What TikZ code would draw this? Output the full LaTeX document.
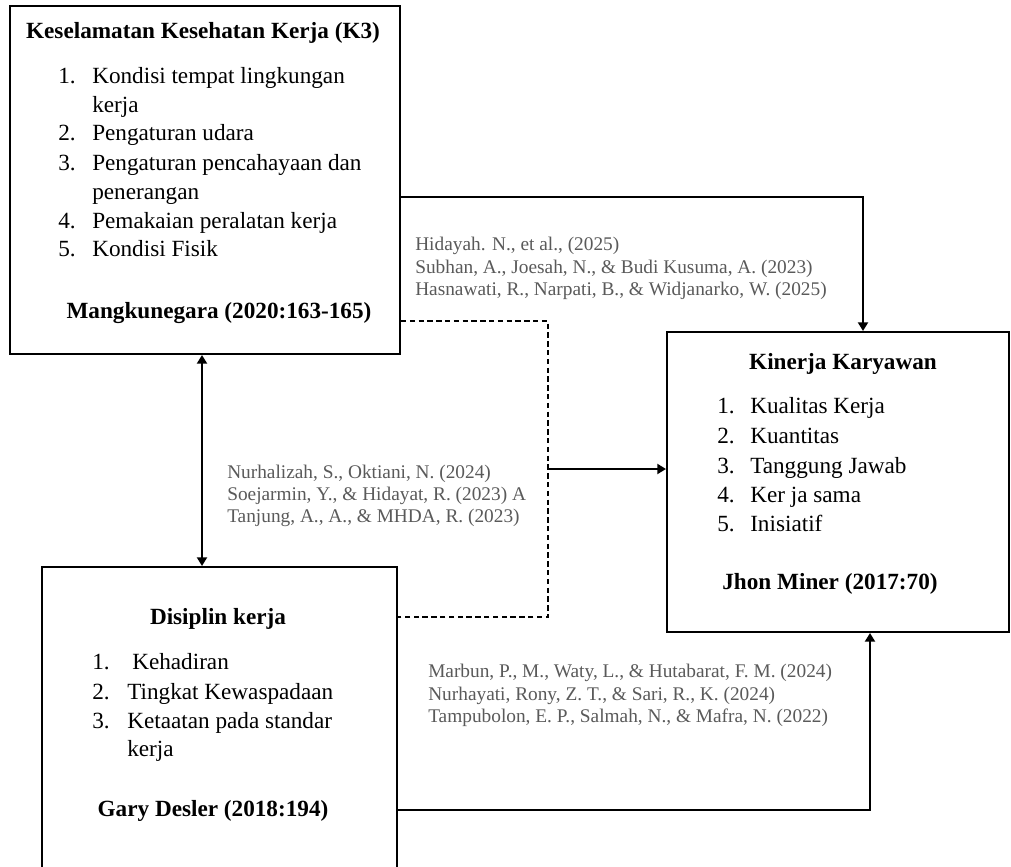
\documentclass[tikz,border=0pt]{standalone}
\usepackage{fontspec}
\setmainfont{Liberation Serif}
\usetikzlibrary{arrows.meta,fit}
\definecolor{citegray}{RGB}{90,90,90}
\newcommand\itm[3][25.5pt]{\makebox[#1][l]{#2}#3}
\begin{document}
\begin{tikzpicture}[x=0.75pt,y=-0.75pt,
  box/.style={draw, line width=1.5pt, inner sep=0pt},
  main/.style={font=\fontsize{17.4}{20}\selectfont, inner sep=0pt, text height=12.5pt, text depth=3.5pt},
  hd/.style={main, font=\fontsize{17.4}{20}\selectfont\bfseries, anchor=center},
  item/.style={main, anchor=west},
  cite/.style={font=\fontsize{14.5}{16}\selectfont, text=citegray, inner sep=0pt, anchor=base west},
  tip/.tip={Triangle[length=6.5pt,width=7.5pt]},
  arr/.style={line width=1.5pt, -tip},
  dbl/.style={line width=1.5pt, tip-tip},
  dsh/.style={line width=1.2pt, dash pattern=on 4pt off 2.6pt}
]
\clip (0,0) rectangle (1011,867);
\fill[white] (0,0) rectangle (1011,867);

% boxes
\node[box, fit={(10,6) (400,354)}] (k3) {};
\node[box, fit={(42,567) (397,900)}] (dis) {};
\node[box, fit={(667,332) (1009,632)}] (kin) {};

% K3 box text
\node[hd] (k3t) at (203,33) {Keselamatan Kesehatan Kerja (K3)};
\node[item] (k3i1) at (58,78) {\itm{1.}{Kondisi tempat lingkungan}};
\node[item] (k3i1b) at (92,107) {kerja};
\node[item] (k3i2) at (58,135) {\itm{2.}{Pengaturan udara}};
\node[item] (k3i3) at (58,165) {\itm{3.}{Pengaturan pencahayaan dan}};
\node[item] (k3i3b) at (92,193) {penerangan};
\node[item] (k3i4) at (58,222) {\itm{4.}{Pemakaian peralatan kerja}};
\node[item] (k3i5) at (58,250) {\itm{5.}{Kondisi Fisik}};
\node[hd] (k3a) at (219,312) {Mangkunegara (2020:163-165)};

% Kinerja box text
\node[hd] (kint) at (843,363) {Kinerja Karyawan};
\node[item] (kini1) at (717,407) {\itm[24.75pt]{1.}{Kualitas Kerja}};
\node[item] (kini2) at (717,437) {\itm[24.75pt]{2.}{Kuantitas}};
\node[item] (kini3) at (717,467) {\itm[24.75pt]{3.}{Tanggung Jawab}};
\node[item] (kini4) at (717,496) {\itm[24.75pt]{4.}{Ker ja sama}};
\node[item] (kini5) at (717,525) {\itm[24.75pt]{5.}{Inisiatif}};
\node[hd] (kina) at (830,583) {Jhon Miner (2017:70)};

% Disiplin box text
\node[hd] (dist) at (218,618) {Disiplin kerja};
\node[item] (disi1) at (92,663) {\itm[30pt]{1.}{Kehadiran}};
\node[item] (disi2) at (92,693) {\itm[26.25pt]{2.}{Tingkat Kewaspadaan}};
\node[item] (disi3) at (92,722) {\itm[26.25pt]{3.}{Ketaatan pada standar}};
\node[item] (disi3b) at (127,750) {kerja};
\node[hd] (disa) at (213,810) {Gary Desler (2018:194)};

% citations
\node[cite] (ca1) at (415,250) {Hidayah. N., et al., (2025)};
\node[cite] (ca2) at (415,273) {Subhan, A., Joesah, N., \& Budi Kusuma, A. (2023)};
\node[cite] (ca3) at (415,295) {Hasnawati, R., Narpati, B., \& Widjanarko, W. (2025)};
\node[cite] (cb1) at (227,478) {Nurhalizah, S., Oktiani, N. (2024)};
\node[cite] (cb2) at (227,500) {Soejarmin, Y., \& Hidayat, R. (2023) A};
\node[cite] (cb3) at (227,522) {Tanjung, A., A., \& MHDA, R. (2023)};
\node[cite] (cc1) at (428,677) {Marbun, P., M., Waty, L., \& Hutabarat, F. M. (2024)};
\node[cite] (cc2) at (428,700) {Nurhayati, Rony, Z. T., \& Sari, R., K. (2024)};
\node[cite] (cc3) at (428,722) {Tampubolon, E. P., Salmah, N., \& Mafra, N. (2022)};

% connectors
\coordinate (c1) at (863,197);
\draw[arr] (c1 -| k3.east) -| (c1 |- kin.north);
\coordinate (c2) at (548,321);
\coordinate (c3) at (548,617);
\draw[dsh] (c2 -| k3.east) -- (c2) -- (c3) -- (c3 -| dis.east);
\coordinate (c4) at (548,469);
\draw[arr] (c4) -- (c4 -| kin.west);
\coordinate (c5) at (202,0);
\draw[dbl] (c5 |- k3.south) -- (c5 |- dis.north);
\coordinate (c6) at (870,810);
\draw[arr] (c6 -| dis.east) -| (c6 |- kin.south);
\end{tikzpicture}
\end{document}
